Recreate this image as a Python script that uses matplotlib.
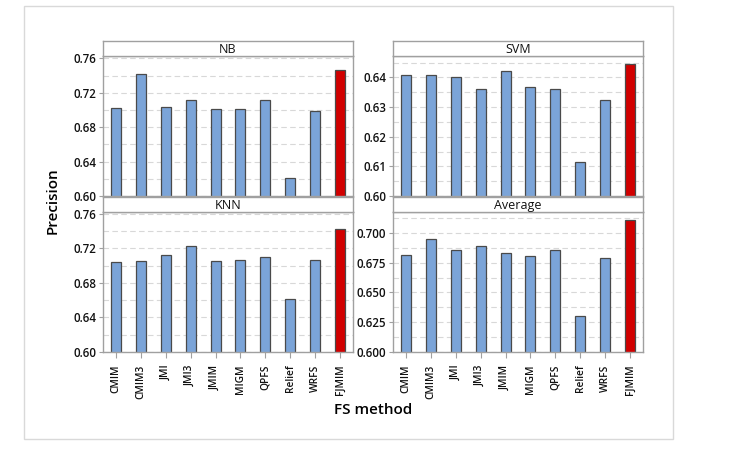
import matplotlib.pyplot as plt
from matplotlib.patches import Rectangle
import numpy as np

methods = ["CMIM", "CMIM3", "JMI", "JMI3", "JMIM", "MIGM", "QPFS", "Relief", "WRFS", "FJMIM"]
nb = [0.702, 0.742, 0.703, 0.711, 0.701, 0.701, 0.711, 0.621, 0.699, 0.747]
svm = [0.6407, 0.6407, 0.6400, 0.6361, 0.6423, 0.6368, 0.6361, 0.6113, 0.6322, 0.6445]
knn = [0.704, 0.705, 0.713, 0.723, 0.706, 0.707, 0.710, 0.661, 0.707, 0.743]
avg = [0.6818, 0.6950, 0.6854, 0.6894, 0.6829, 0.6810, 0.6854, 0.6305, 0.6790, 0.7112]

plt.rcParams['font.family'] = ['Open Sans', 'DejaVu Sans']

W, H = 738, 463
fig = plt.figure(figsize=(W / 100, H / 100), dpi=100)

# outer frame
fig.patches.append(Rectangle((24 / W, 1 - 439 / H), (673 - 24) / W, (439 - 6) / H,
                             transform=fig.transFigure, fill=False,
                             edgecolor='#d9d9d9', linewidth=1))

def px_axes(x0, y0, x1, y1):
    return fig.add_axes([x0 / W, 1 - y1 / H, (x1 - x0) / W, (y1 - y0) / H])

blue = '#7ba4d8'
red = '#d10000'
frame = '#a0a0a0'
txt = '#111111'

panels = [
    ("NB", nb, (103, 56, 353, 196), (0.60, 0.7627), np.arange(0.60, 0.761, 0.04), np.arange(0.60, 0.761, 0.02), "%.2f"),
    ("SVM", svm, (393, 56, 643, 196), (0.60, 0.6472), np.arange(0.60, 0.6451, 0.01), np.arange(0.60, 0.6451, 0.005), "%.2f"),
    ("KNN", knn, (103, 212, 353, 352), (0.60, 0.7623), np.arange(0.60, 0.761, 0.04), np.arange(0.60, 0.761, 0.02), "%.2f"),
    ("Average", avg, (393, 212, 643, 352), (0.60, 0.7176), np.arange(0.60, 0.7001, 0.025), np.arange(0.60, 0.7126, 0.0125), "%.3f"),
]

x = np.arange(len(methods))
for i, (name, vals, (x0, y0, x1, y1), ylim, major, grid, fmt) in enumerate(panels):
    ax = px_axes(x0, y0, x1, y1)
    for g in grid:
        ax.axhline(g, color='#d8d8d8', linestyle=(0, (5, 3)), linewidth=0.8, zorder=0)
    colors = [blue] * (len(methods) - 1) + [red]
    ax.bar(x, vals, width=0.4, color=colors, edgecolor='#4a4a4a', linewidth=0.9, zorder=2)
    ax.set_xlim(-0.52, 9.52)
    ax.set_ylim(*ylim)
    ax.set_yticks(major)
    ax.set_yticklabels([fmt % v for v in major], fontsize=8.3, color=txt, fontweight='semibold')
    ax.tick_params(axis='y', length=3, color=frame, pad=2)
    if i >= 2:
        ax.set_xticks(x)
        ax.set_xticklabels(methods, rotation=90, fontsize=7.3, color=txt, fontweight='semibold')
        ax.tick_params(axis='x', length=4, color=frame, pad=5)
    else:
        ax.set_xticks([])
    for s in ax.spines.values():
        s.set_color(frame)
        s.set_linewidth(1)
    # strip
    sax = px_axes(x0, y0 - 15, x1, y0)
    sax.set_xticks([])
    sax.set_yticks([])
    for s in sax.spines.values():
        s.set_color(frame)
        s.set_linewidth(1)
    sax.text(0.5, 0.45, name, ha='center', va='center', fontsize=9, color=txt,
             transform=sax.transAxes)

fig.text(53 / W, 1 - 201 / H, "Precision", rotation=90, ha='center', va='center',
         fontsize=11, fontweight='semibold')
fig.text(373 / W, 1 - 410 / H, "FS method", ha='center', va='center',
         fontsize=11, fontweight='semibold')

fig.savefig("out.png", dpi=100)
